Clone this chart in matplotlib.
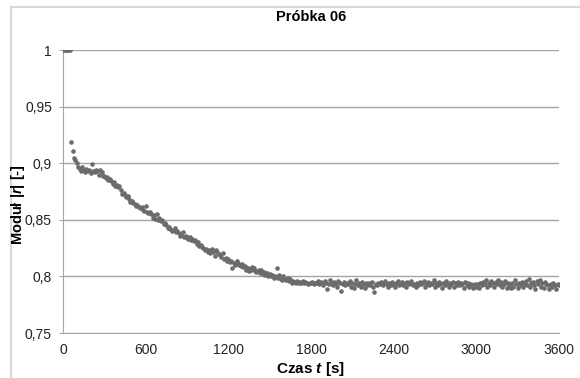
import numpy as np
import matplotlib
matplotlib.use("Agg")
import matplotlib.pyplot as plt
from matplotlib.patches import Rectangle

# Dane: moduł |r| co 10 s (jeden wiersz = jedna minuta)
step_s = 10
modul = [
    1.000, 1.000, 1.000, 1.000, 1.000, 1.000,
    0.919, 0.911, 0.905, 0.903, 0.900, 0.897,
    0.895, 0.893, 0.897, 0.894, 0.892, 0.895,
    0.893, 0.894, 0.891, 0.899, 0.893, 0.892,
    0.894, 0.893, 0.890, 0.894, 0.892, 0.889,
    0.889, 0.887, 0.888, 0.885, 0.886, 0.884,
    0.882, 0.883, 0.880, 0.881, 0.879, 0.880,
    0.876, 0.873, 0.874, 0.872, 0.870, 0.871,
    0.868, 0.866, 0.867, 0.865, 0.864, 0.862,
    0.863, 0.861, 0.860, 0.861, 0.859, 0.858,
    0.862, 0.857, 0.856, 0.857, 0.855, 0.852,
    0.854, 0.851, 0.855, 0.850, 0.852, 0.849,
    0.850, 0.846, 0.847, 0.845, 0.843, 0.844,
    0.842, 0.840, 0.841, 0.843, 0.839, 0.840,
    0.838, 0.836, 0.837, 0.839, 0.835, 0.836,
    0.834, 0.833, 0.835, 0.832, 0.833, 0.831,
    0.832, 0.829, 0.830, 0.827, 0.828, 0.826,
    0.825, 0.823, 0.824, 0.822, 0.823, 0.821,
    0.824, 0.822, 0.818, 0.823, 0.822, 0.820,
    0.819, 0.817, 0.821, 0.815, 0.816, 0.814,
    0.815, 0.813, 0.814, 0.807, 0.812, 0.810,
    0.814, 0.812, 0.810, 0.809, 0.811, 0.808,
    0.809, 0.806, 0.807, 0.805, 0.806, 0.808,
    0.806, 0.807, 0.804, 0.805, 0.806, 0.803,
    0.806, 0.802, 0.804, 0.801, 0.803, 0.800,
    0.802, 0.800, 0.801, 0.799, 0.800, 0.807,
    0.799, 0.801, 0.798, 0.797, 0.800, 0.798,
    0.797, 0.799, 0.796, 0.798, 0.794, 0.796,
    0.795, 0.794, 0.796, 0.794, 0.795, 0.794,
    0.796, 0.794, 0.795, 0.794, 0.793, 0.794,
    0.794, 0.795, 0.793, 0.794, 0.794, 0.796,
    0.793, 0.795, 0.794, 0.792, 0.796, 0.794,
    0.789, 0.793, 0.797, 0.794, 0.792, 0.795,
    0.793, 0.791, 0.796, 0.794, 0.787, 0.793,
    0.795, 0.792, 0.794, 0.793, 0.796, 0.791,
    0.794, 0.790, 0.793, 0.797, 0.792, 0.794,
    0.791, 0.795, 0.793, 0.790, 0.794, 0.792,
    0.794, 0.792, 0.795, 0.791, 0.786, 0.793,
    0.792, 0.794, 0.793, 0.795, 0.792, 0.794,
    0.796, 0.793, 0.791, 0.794, 0.792, 0.795,
    0.793, 0.791, 0.794, 0.796, 0.792, 0.793,
    0.795, 0.792, 0.794, 0.791, 0.795, 0.793,
    0.794, 0.796, 0.792, 0.793, 0.791, 0.794,
    0.792, 0.795, 0.793, 0.794, 0.796, 0.791,
    0.793, 0.795, 0.792, 0.794, 0.793, 0.797,
    0.791, 0.794, 0.792, 0.795, 0.793, 0.790,
    0.794, 0.792, 0.796, 0.793, 0.791, 0.794,
    0.793, 0.795, 0.791, 0.794, 0.792, 0.795,
    0.792, 0.794, 0.793, 0.790, 0.795, 0.792,
    0.794, 0.791, 0.793, 0.792, 0.790, 0.793,
    0.791, 0.793, 0.790, 0.794, 0.792, 0.795,
    0.793, 0.797, 0.791, 0.794, 0.792, 0.796,
    0.794, 0.791, 0.795, 0.793, 0.797, 0.792,
    0.795, 0.791, 0.793, 0.796, 0.790, 0.794,
    0.792, 0.790, 0.794, 0.791, 0.797, 0.793,
    0.790, 0.794, 0.792, 0.795, 0.791, 0.793,
    0.796, 0.792, 0.798, 0.791, 0.794, 0.795,
    0.792, 0.789, 0.796, 0.793, 0.797, 0.791,
    0.794, 0.790, 0.795, 0.793, 0.792, 0.789,
    0.793, 0.791, 0.794, 0.792, 0.789, 0.793,
    0.792,
]
czas = np.arange(len(modul)) * step_s

xticks = [0, 600, 1200, 1800, 2400, 3000, 3600]
yticks = [0.75, 0.8, 0.85, 0.9, 0.95, 1.0]
ytick_labels = ["0,75", "0,8", "0,85", "0,9", "0,95", "1"]

plt.rcParams["font.family"] = ["Liberation Sans", "DejaVu Sans"]
plt.rcParams["mathtext.fontset"] = "custom"
plt.rcParams["mathtext.it"] = "Liberation Sans:italic:bold"
plt.rcParams["mathtext.rm"] = "Liberation Sans:bold"

fig = plt.figure(figsize=(5.8, 3.78), dpi=100)
ax = fig.add_axes([0.1086, 0.119, 0.855, 0.7487])

# ramka wykresu (jak w Excelu)
fig.patches.append(Rectangle((11 / 580, -0.1), 1.2, 1 - 7 / 378 + 0.1,
                             transform=fig.transFigure, fill=False,
                             edgecolor="#d9d9d9", linewidth=1.5))

ax.plot(czas, modul, "o", color="#6b6b6b", markersize=3.3,
        markeredgewidth=0, zorder=3)

ax.set_xlim(0, 3600)
ax.set_ylim(0.75, 1.0)
ax.set_xticks(xticks)
ax.set_yticks(yticks)
ax.set_yticklabels(ytick_labels)
ax.tick_params(axis="x", length=0, pad=7, labelsize=10, labelcolor="#222222")
ax.tick_params(axis="y", length=3, color="#a6a6a6", pad=5, labelsize=10,
               labelcolor="#222222")
ax.grid(axis="y", color="#a6a6a6", linewidth=1.0)
ax.set_axisbelow(True)
for s in ["top", "right"]:
    ax.spines[s].set_visible(False)
ax.spines["left"].set_color("#a6a6a6")
ax.spines["bottom"].set_color("#a6a6a6")

ax.set_title("Próbka 06", fontsize=10.5, fontweight="bold", pad=21)
ax.set_xlabel("Czas $t$ [s]", fontsize=11, fontweight="bold", labelpad=2)
fig.text(18 / 580, 1 - 205 / 378, "Moduł |$r$| [-]", rotation=90,
         ha="center", va="center", fontsize=10.5, fontweight="bold")

fig.savefig("out.png", dpi=100)
